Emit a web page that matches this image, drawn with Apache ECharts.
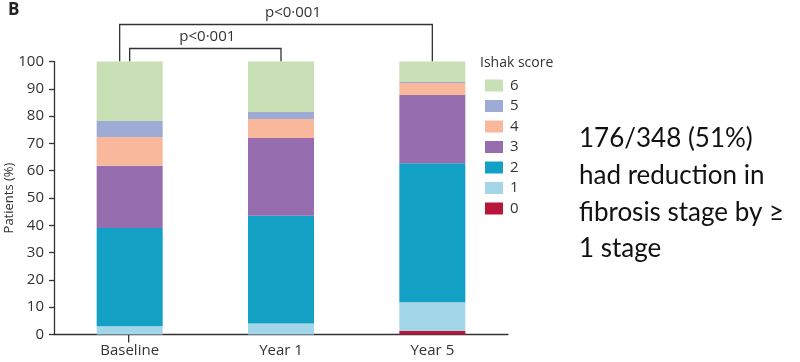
<!DOCTYPE html>
<html>
<head>
<meta charset="utf-8">
<script src="https://cdn.jsdelivr.net/npm/echarts@6/dist/echarts.min.js"></script>
<style>
  html, body { margin: 0; padding: 0; background: #fff; }
  #chart { width: 800px; height: 362px; }
</style>
</head>
<body>
<div id="chart"></div>
<script>
const categories = ['Baseline', 'Year 1', 'Year 5']
const scoreNames = ['0', '1', '2', '3', '4', '5', '6']
// percent of patients per Ishak score, bottom (0) to top (6)
const score0 = [0, 0, 1.3]
const score1 = [3.0, 4.0, 10.5]
const score2 = [36.0, 39.5, 50.9]
const score3 = [22.8, 28.5, 25.0]
const score4 = [10.5, 6.9, 4.4]
const score5 = [5.9, 2.6, 0.4]
const score6 = [21.8, 18.5, 7.5]
const yTicks = [0, 10, 20, 30, 40, 50, 60, 70, 80, 90, 100]
const pLabels = ['p<0·001', 'p<0·001']
const noteLines = ['176/348 (51%)', 'had reduction in', 'fibrosis stage by ≥', '1 stage']

const seriesValues = [score0, score1, score2, score3, score4, score5, score6]
const colors = ['#b8173b', '#a3d6e8', '#12a0c4', '#966eaf', '#f9b89c', '#9eabd4', '#c9dfb5']
const axisColor = '#333'
const font = '"Open Sans", "Noto Sans", sans-serif'

const chart = echarts.init(document.getElementById('chart'))

const option = {
  backgroundColor: '#fff',
  animation: false,
  grid: { left: 54, right: 292, top: 61.5, bottom: 27.5, outerBoundsMode: 'none', containLabel: false },
  legend: {
    orient: 'vertical',
    left: 480,
    top: 73,
    itemWidth: 18,
    itemHeight: 12,
    itemGap: 5.5,
    icon: 'rect',
    data: scoreNames.slice().reverse(),
    textStyle: { color: '#333', fontSize: 15, fontFamily: font, padding: [0, 0, 0, 2] }
  },
  xAxis: {
    type: 'category',
    data: categories,
    axisLine: { lineStyle: { color: axisColor, width: 1.3 } },
    axisTick: { length: 6, lineStyle: { color: axisColor, width: 1.3 } },
    axisLabel: { color: '#333', fontSize: 15, fontFamily: font, margin: 9 }
  },
  yAxis: {
    type: 'value',
    min: yTicks[0],
    max: yTicks[yTicks.length - 1],
    interval: yTicks[1] - yTicks[0],
    name: 'Patients (%)',
    nameLocation: 'middle',
    nameGap: 38,
    nameMoveOverlap: false,
    nameTextStyle: { color: '#333', fontSize: 13, fontFamily: font },
    axisLine: { show: true, lineStyle: { color: axisColor, width: 1.3 } },
    axisTick: { show: true, length: 5, lineStyle: { color: axisColor, width: 1.3 } },
    axisLabel: { color: '#333', fontSize: 15, fontFamily: font, margin: 10 },
    splitLine: { show: false }
  },
  series: seriesValues.map((vals, i) => ({
    name: scoreNames[i],
    type: 'bar',
    stack: 'ishak',
    data: vals,
    barWidth: 66,
    itemStyle: { color: colors[i] }
  }))
}

chart.setOption(option)

// annotations positioned from the axes
const px = (cat, v) => chart.convertToPixel({ xAxisIndex: 0, yAxisIndex: 0 }, [cat, v])
const top100 = px(0, 100)[1]
const base0 = px(0, 0)
const xB = px(0, 100)[0]
const x1 = px(1, 100)[0]
const x5 = px(2, 100)[0]
const lineStyle = { stroke: axisColor, lineWidth: 1.3, fill: null }

const graphics = [
  { type: 'polyline', shape: { points: [[xB, top100], [xB, top100 - 13], [x1, top100 - 13], [x1, top100]] }, style: lineStyle },
  { type: 'polyline', shape: { points: [[xB - 10, top100], [xB - 10, top100 - 37], [x5, top100 - 37], [x5, top100]] }, style: lineStyle },
  { type: 'text', x: (xB + x1) / 2 + 2, y: top100 - 17, style: { text: pLabels[0], fill: '#333', font: '15px ' + font, align: 'center', verticalAlign: 'bottom' } },
  { type: 'text', x: (xB - 10 + x5) / 2 + 17, y: top100 - 41, style: { text: pLabels[1], fill: '#333', font: '15px ' + font, align: 'center', verticalAlign: 'bottom' } },
  { type: 'line', shape: { x1: base0[0] - 1, y1: base0[1], x2: base0[0] - 1, y2: base0[1] + 8 }, style: { stroke: axisColor, lineWidth: 1.3 } },
  { type: 'text', x: 8, y: 2, style: { text: 'B', fill: '#222', font: 'bold 17px ' + font } },
  { type: 'text', x: 480, y: 56, style: { text: 'Ishak score', fill: '#333', font: '14px ' + font } }
]
noteLines.forEach((t, i) => {
  graphics.push({ type: 'text', x: 579, y: 139 + i * 36.6, style: { text: t, fill: '#111', font: '26px Lato, "Open Sans", sans-serif', verticalAlign: 'middle' } })
})
chart.setOption({ graphic: graphics })

window.addEventListener('resize', () => chart.resize())
</script>
</body>
</html>
